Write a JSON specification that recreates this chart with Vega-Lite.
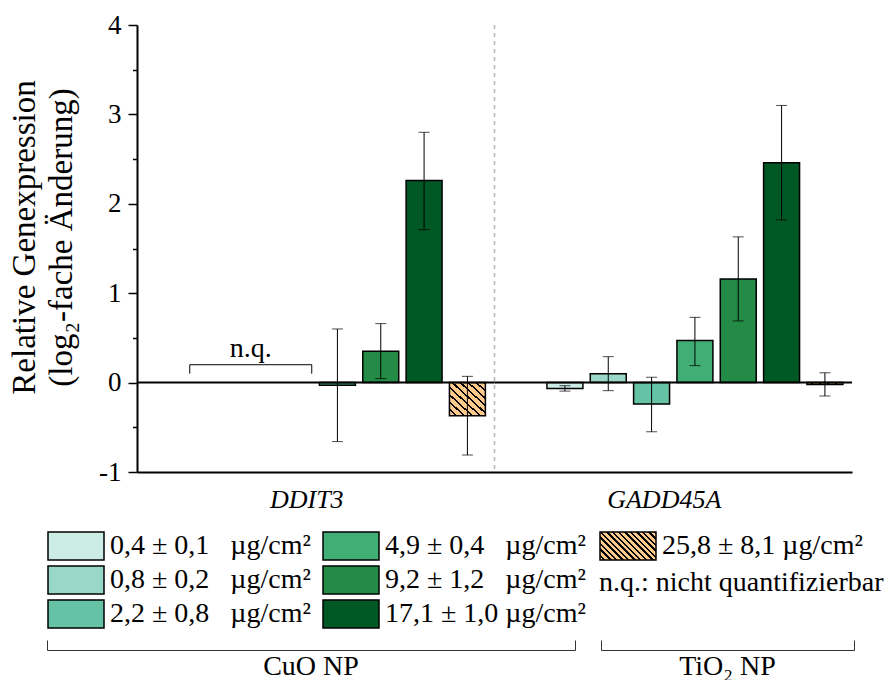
{
  "$schema": "https://vega.github.io/schema/vega-lite/v6.json",
  "background": "white",
  "padding": {"left": 8, "top": 11, "right": 0, "bottom": 0},
  "config": {
    "font": "Liberation Serif",
    "view": {"stroke": null},
    "axis": {
      "grid": false,
      "labelFont": "Liberation Serif",
      "titleFont": "Liberation Serif",
      "labelColor": "black",
      "titleColor": "black",
      "domainColor": "black",
      "tickColor": "black"
    },
    "legend": {
      "orient": "none",
      "direction": "vertical",
      "padding": 0,
      "rowPadding": 0,
      "columnPadding": 9,
      "symbolType": "M-2,-1H2V1H-2Z",
      "symbolSize": 784,
      "symbolOffset": 14,
      "symbolStrokeColor": "black",
      "symbolStrokeWidth": 1.5,
      "labelFont": "Liberation Serif",
      "labelFontSize": 28,
      "labelColor": "black",
      "labelOffset": 19,
      "labelLimit": 400,
      "titleFont": "Liberation Serif",
      "titleFontSize": 28,
      "titleFontWeight": "normal",
      "titleColor": "black",
      "titleLimit": 400
    },
    "text": {"font": "Liberation Serif", "color": "black"}
  },
  "datasets": {
    "messwerte": [
      {"gen": "DDIT3", "konz": "0,4 ± 0,1 µg/cm²", "partikel": "CuO", "status": "n.q.", "mw": null, "lo": null, "hi": null},
      {"gen": "DDIT3", "konz": "0,8 ± 0,2 µg/cm²", "partikel": "CuO", "status": "n.q.", "mw": null, "lo": null, "hi": null},
      {"gen": "DDIT3", "konz": "2,2 ± 0,8 µg/cm²", "partikel": "CuO", "status": "n.q.", "mw": null, "lo": null, "hi": null},
      {"gen": "DDIT3", "konz": "4,9 ± 0,4 µg/cm²", "partikel": "CuO", "status": "ok", "mw": -0.03, "lo": -0.66, "hi": 0.60},
      {"gen": "DDIT3", "konz": "9,2 ± 1,2 µg/cm²", "partikel": "CuO", "status": "ok", "mw": 0.35, "lo": 0.045, "hi": 0.66},
      {"gen": "DDIT3", "konz": "17,1 ± 1,0 µg/cm²", "partikel": "CuO", "status": "ok", "mw": 2.26, "lo": 1.71, "hi": 2.80},
      {"gen": "DDIT3", "konz": "25,8 ± 8,1 µg/cm²", "partikel": "TiO2", "status": "ok", "mw": -0.37, "lo": -0.81, "hi": 0.07},
      {"gen": "GADD45A", "konz": "0,4 ± 0,1 µg/cm²", "partikel": "CuO", "status": "ok", "mw": -0.065, "lo": -0.095, "hi": -0.035},
      {"gen": "GADD45A", "konz": "0,8 ± 0,2 µg/cm²", "partikel": "CuO", "status": "ok", "mw": 0.10, "lo": -0.09, "hi": 0.29},
      {"gen": "GADD45A", "konz": "2,2 ± 0,8 µg/cm²", "partikel": "CuO", "status": "ok", "mw": -0.24, "lo": -0.55, "hi": 0.06},
      {"gen": "GADD45A", "konz": "4,9 ± 0,4 µg/cm²", "partikel": "CuO", "status": "ok", "mw": 0.47, "lo": 0.19, "hi": 0.73},
      {"gen": "GADD45A", "konz": "9,2 ± 1,2 µg/cm²", "partikel": "CuO", "status": "ok", "mw": 1.16, "lo": 0.69, "hi": 1.63},
      {"gen": "GADD45A", "konz": "17,1 ± 1,0 µg/cm²", "partikel": "CuO", "status": "ok", "mw": 2.46, "lo": 1.82, "hi": 3.10},
      {"gen": "GADD45A", "konz": "25,8 ± 8,1 µg/cm²", "partikel": "TiO2", "status": "ok", "mw": -0.02, "lo": -0.15, "hi": 0.11}
    ],
    "gene": [
      {"gen": "DDIT3"},
      {"gen": "GADD45A"}
    ],
    "hinweise": [
      {"gen": "DDIT3", "konz": "0,8 ± 0,2 µg/cm²", "hinweis": "n.q."}
    ]
  },
  "resolve": {"scale": {"x": "independent"}},
  "spacing": 127,
  "vconcat": [
    {
      "width": 805,
      "height": 447,
      "layer": [
        {
          "data": {"name": "messwerte"},
          "transform": [{"filter": "datum.mw !== null"}],
          "encoding": {
            "x": {
              "field": "gen",
              "type": "nominal",
              "title": null,
              "scale": {"domain": ["DDIT3", "GADD45A"], "range": [90, 805], "paddingInner": 0, "paddingOuter": 0},
              "axis": {
                "orient": "bottom",
                "ticks": false,
                "labelAngle": 0,
                "labelFontSize": 26,
                "labelFontStyle": "italic",
                "labelPadding": 14,
                "labelOffset": -9,
                "domainWidth": 2
              }
            },
            "xOffset": {
              "field": "konz",
              "type": "nominal",
              "scale": {
                "domain": ["Kontrolle", "0,4 ± 0,1 µg/cm²", "0,8 ± 0,2 µg/cm²", "2,2 ± 0,8 µg/cm²", "4,9 ± 0,4 µg/cm²", "9,2 ± 1,2 µg/cm²", "17,1 ± 1,0 µg/cm²", "25,8 ± 8,1 µg/cm²"],
                "paddingInner": 0.17,
                "paddingOuter": 0.21
              }
            },
            "y": {
              "field": "mw",
              "type": "quantitative",
              "title": ["Relative Genexpression", "(log₂-fache Änderung)"],
              "scale": {"domain": [-1, 4], "nice": false, "zero": false},
              "axis": {
                "offset": -90,
                "values": [-1, -0.5, 0, 0.5, 1, 1.5, 2, 2.5, 3, 3.5, 4],
                "labelExpr": "datum.value % 1 === 0 ? '' + datum.value : ''",
                "labelOverlap": false,
                "labelFontSize": 27,
                "labelPadding": 7,
                "tickSize": {"condition": {"test": "datum.value % 1 !== 0", "value": 4.5}, "value": 9},
                "tickWidth": 1.5,
                "domainWidth": 2,
                "titleFontSize": 33,
                "titleFontWeight": "normal",
                "titleLineHeight": 37,
                "titlePadding": 20,
                "titleY": 212
              }
            }
          },
          "layer": [
            {
              "transform": [{"filter": "datum.partikel === 'CuO'"}],
              "mark": {"type": "bar", "stroke": "black", "strokeWidth": 1.5},
              "encoding": {
                "fill": {
                  "field": "konz",
                  "type": "nominal",
                  "scale": {
                    "domain": ["0,4 ± 0,1 µg/cm²", "0,8 ± 0,2 µg/cm²", "2,2 ± 0,8 µg/cm²", "4,9 ± 0,4 µg/cm²", "9,2 ± 1,2 µg/cm²", "17,1 ± 1,0 µg/cm²"],
                    "range": ["#ccece6", "#99d8c9", "#66c2a4", "#41ae76", "#238b45", "#005824"]
                  },
                  "legend": {
                    "title": null,
                    "legendX": 0,
                    "legendY": 506,
                    "columns": 2,
                    "labelExpr": "length(datum.label) <= 16 ? replace(datum.label, ' µg', '\u00a0\u00a0\u00a0µg') : datum.label",
                    "encoding": {
                      "symbols": {
                        "stroke": {"value": "black"},
                        "strokeWidth": {"value": 1.5}
                      }
                    }
                  }
                }
              }
            },
            {
              "transform": [{"filter": "datum.partikel === 'TiO2'"}],
              "mark": {
                "type": "bar",
                "stroke": "black",
                "strokeWidth": 1.5,
                "fill": {
                  "gradient": "linear", "x1": 0, "y1": 1, "x2": 1, "y2": 0,
                  "stops": [
                    {"offset": 0, "color": "#fdc98a"}, {"offset": 0.08, "color": "#fdc98a"}, {"offset": 0.08, "color": "#000000"}, {"offset": 0.111, "color": "#000000"},
                    {"offset": 0.111, "color": "#fdc98a"}, {"offset": 0.191, "color": "#fdc98a"}, {"offset": 0.191, "color": "#000000"}, {"offset": 0.222, "color": "#000000"},
                    {"offset": 0.222, "color": "#fdc98a"}, {"offset": 0.302, "color": "#fdc98a"}, {"offset": 0.302, "color": "#000000"}, {"offset": 0.333, "color": "#000000"},
                    {"offset": 0.333, "color": "#fdc98a"}, {"offset": 0.413, "color": "#fdc98a"}, {"offset": 0.413, "color": "#000000"}, {"offset": 0.444, "color": "#000000"},
                    {"offset": 0.444, "color": "#fdc98a"}, {"offset": 0.524, "color": "#fdc98a"}, {"offset": 0.524, "color": "#000000"}, {"offset": 0.556, "color": "#000000"},
                    {"offset": 0.556, "color": "#fdc98a"}, {"offset": 0.636, "color": "#fdc98a"}, {"offset": 0.636, "color": "#000000"}, {"offset": 0.667, "color": "#000000"},
                    {"offset": 0.667, "color": "#fdc98a"}, {"offset": 0.747, "color": "#fdc98a"}, {"offset": 0.747, "color": "#000000"}, {"offset": 0.778, "color": "#000000"},
                    {"offset": 0.778, "color": "#fdc98a"}, {"offset": 0.858, "color": "#fdc98a"}, {"offset": 0.858, "color": "#000000"}, {"offset": 0.889, "color": "#000000"},
                    {"offset": 0.889, "color": "#fdc98a"}, {"offset": 0.969, "color": "#fdc98a"}, {"offset": 0.969, "color": "#000000"}, {"offset": 1, "color": "#000000"}
                  ]
                }
              },
              "encoding": {
                "opacity": {
                  "field": "konz",
                  "type": "nominal",
                  "scale": {"domain": ["25,8 ± 8,1 µg/cm²"], "range": [1]},
                  "legend": {
                    "title": "n.q.: nicht quantifizierbar",
                    "titleOrient": "bottom",
                    "titleAnchor": "start",
                    "titlePadding": 6,
                    "legendX": 552,
                    "legendY": 506,
                    "encoding": {
                      "symbols": {
                        "stroke": {"value": "black"},
                        "strokeWidth": {"value": 1.5},
                        "fill": {
                          "value": {
                            "gradient": "linear", "x1": 0, "y1": 1, "x2": 1.2, "y2": 0.4,
                            "stops": [
                              {"offset": 0, "color": "#fdc98a"}, {"offset": 0.046, "color": "#fdc98a"}, {"offset": 0.046, "color": "#000000"}, {"offset": 0.071, "color": "#000000"},
                              {"offset": 0.071, "color": "#fdc98a"}, {"offset": 0.118, "color": "#fdc98a"}, {"offset": 0.118, "color": "#000000"}, {"offset": 0.143, "color": "#000000"},
                              {"offset": 0.143, "color": "#fdc98a"}, {"offset": 0.189, "color": "#fdc98a"}, {"offset": 0.189, "color": "#000000"}, {"offset": 0.214, "color": "#000000"},
                              {"offset": 0.214, "color": "#fdc98a"}, {"offset": 0.261, "color": "#fdc98a"}, {"offset": 0.261, "color": "#000000"}, {"offset": 0.286, "color": "#000000"},
                              {"offset": 0.286, "color": "#fdc98a"}, {"offset": 0.332, "color": "#fdc98a"}, {"offset": 0.332, "color": "#000000"}, {"offset": 0.357, "color": "#000000"},
                              {"offset": 0.357, "color": "#fdc98a"}, {"offset": 0.404, "color": "#fdc98a"}, {"offset": 0.404, "color": "#000000"}, {"offset": 0.429, "color": "#000000"},
                              {"offset": 0.429, "color": "#fdc98a"}, {"offset": 0.475, "color": "#fdc98a"}, {"offset": 0.475, "color": "#000000"}, {"offset": 0.5, "color": "#000000"},
                              {"offset": 0.5, "color": "#fdc98a"}, {"offset": 0.546, "color": "#fdc98a"}, {"offset": 0.546, "color": "#000000"}, {"offset": 0.571, "color": "#000000"},
                              {"offset": 0.571, "color": "#fdc98a"}, {"offset": 0.618, "color": "#fdc98a"}, {"offset": 0.618, "color": "#000000"}, {"offset": 0.643, "color": "#000000"},
                              {"offset": 0.643, "color": "#fdc98a"}, {"offset": 0.689, "color": "#fdc98a"}, {"offset": 0.689, "color": "#000000"}, {"offset": 0.714, "color": "#000000"},
                              {"offset": 0.714, "color": "#fdc98a"}, {"offset": 0.761, "color": "#fdc98a"}, {"offset": 0.761, "color": "#000000"}, {"offset": 0.786, "color": "#000000"},
                              {"offset": 0.786, "color": "#fdc98a"}, {"offset": 0.832, "color": "#fdc98a"}, {"offset": 0.832, "color": "#000000"}, {"offset": 0.857, "color": "#000000"},
                              {"offset": 0.857, "color": "#fdc98a"}, {"offset": 0.904, "color": "#fdc98a"}, {"offset": 0.904, "color": "#000000"}, {"offset": 0.929, "color": "#000000"},
                              {"offset": 0.929, "color": "#fdc98a"}, {"offset": 0.975, "color": "#fdc98a"}, {"offset": 0.975, "color": "#000000"}, {"offset": 1, "color": "#000000"}
                            ]
                          }
                        }
                      }
                    }
                  }
                }
              }
            },
            {
              "mark": {"type": "rule", "stroke": "black", "strokeWidth": 1},
              "encoding": {
                "y": {"field": "lo", "type": "quantitative"},
                "y2": {"field": "hi"}
              }
            },
            {
              "mark": {"type": "tick", "color": "black", "thickness": 1, "size": 11},
              "encoding": {"y": {"field": "lo", "type": "quantitative"}}
            },
            {
              "mark": {"type": "tick", "color": "black", "thickness": 1, "size": 11},
              "encoding": {"y": {"field": "hi", "type": "quantitative"}}
            }
          ]
        },
        {
          "data": {"name": "gene"},
          "mark": {"type": "bar", "fill": "black", "stroke": "black", "strokeWidth": 2},
          "encoding": {
            "x": {"field": "gen", "type": "nominal"},
            "y": {"datum": 0},
            "y2": {"datum": 0}
          }
        },
        {
          "data": {"values": [{}]},
          "mark": {"type": "rule", "stroke": "#b4b4b4", "strokeWidth": 1.5, "strokeDash": [4, 4]},
          "encoding": {"x": {"datum": "GADD45A", "type": "nominal", "bandPosition": 0}}
        },
        {
          "data": {"name": "hinweise"},
          "mark": {"type": "bar", "width": 122, "fill": "transparent", "stroke": "black", "strokeWidth": 1, "strokeDash": [131, 122, 10]},
          "encoding": {
            "x": {"field": "gen", "type": "nominal"},
            "xOffset": {
              "field": "konz",
              "type": "nominal",
              "scale": {
                "domain": ["Kontrolle", "0,4 ± 0,1 µg/cm²", "0,8 ± 0,2 µg/cm²", "2,2 ± 0,8 µg/cm²", "4,9 ± 0,4 µg/cm²", "9,2 ± 1,2 µg/cm²", "17,1 ± 1,0 µg/cm²", "25,8 ± 8,1 µg/cm²"],
                "paddingInner": 0.17,
                "paddingOuter": 0.21
              }
            },
            "y": {"datum": 0.2},
            "y2": {"datum": 0.1}
          }
        },
        {
          "data": {"name": "hinweise"},
          "mark": {"type": "text", "fontSize": 28, "baseline": "alphabetic"},
          "encoding": {
            "x": {"field": "gen", "type": "nominal"},
            "xOffset": {
              "field": "konz",
              "type": "nominal",
              "scale": {
                "domain": ["Kontrolle", "0,4 ± 0,1 µg/cm²", "0,8 ± 0,2 µg/cm²", "2,2 ± 0,8 µg/cm²", "4,9 ± 0,4 µg/cm²", "9,2 ± 1,2 µg/cm²", "17,1 ± 1,0 µg/cm²", "25,8 ± 8,1 µg/cm²"],
                "paddingInner": 0.17,
                "paddingOuter": 0.21
              }
            },
            "y": {"datum": 0.29},
            "text": {"field": "hinweis"}
          }
        }
      ]
    },
    {
      "resolve": {"scale": {"x": "independent"}},
      "spacing": 24,
      "hconcat": [
        {
          "width": 528,
          "height": 34,
          "data": {"values": [{"gruppe": "CuO NP"}]},
          "mark": {"type": "text", "fontSize": 28},
          "encoding": {
            "x": {
              "field": "gruppe",
              "type": "nominal",
              "title": null,
              "scale": {"paddingInner": 0, "paddingOuter": 0},
              "axis": {"orient": "top", "labels": false, "tickBand": "extent", "tickSize": 10, "tickWidth": 1, "domainWidth": 1, "tickColor": "#333333", "domainColor": "#333333"}
            },
            "text": {"field": "gruppe"}
          }
        },
        {
          "width": 253,
          "height": 34,
          "data": {"values": [{"gruppe": "TiO₂ NP"}]},
          "mark": {"type": "text", "fontSize": 28},
          "encoding": {
            "x": {
              "field": "gruppe",
              "type": "nominal",
              "title": null,
              "scale": {"paddingInner": 0, "paddingOuter": 0},
              "axis": {"orient": "top", "labels": false, "tickBand": "extent", "tickSize": 10, "tickWidth": 1, "domainWidth": 1, "tickColor": "#333333", "domainColor": "#333333"}
            },
            "text": {"field": "gruppe"}
          }
        }
      ]
    }
  ]
}
